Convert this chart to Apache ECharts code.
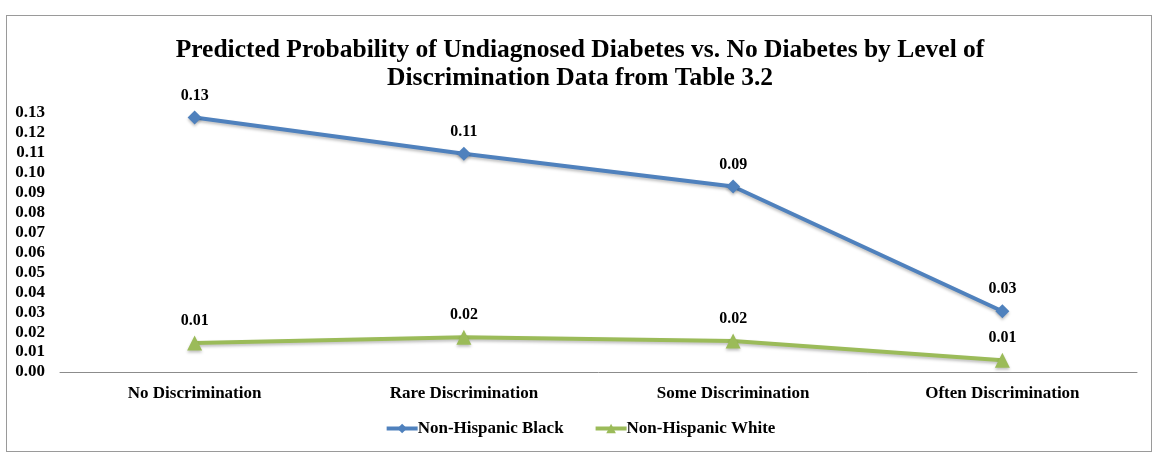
<!DOCTYPE html>
<html>
<head>
<meta charset="utf-8">
<script src="https://cdn.jsdelivr.net/npm/echarts@6/dist/echarts.min.js"></script>
<style>
  html, body { margin: 0; padding: 0; background: #fff; }
  #frame { position: absolute; left: 6px; top: 15px; width: 1146px; height: 437px; border: 1px solid #9a9a9a; box-sizing: border-box; }
  #chart { width: 1160px; height: 455px; }
</style>
</head>
<body>
<div id="frame"></div>
<div id="chart"></div>
<script>
// Discrimination levels on the x axis
const categories = ['No Discrimination', 'Rare Discrimination', 'Some Discrimination', 'Often Discrimination'];
// Predicted probabilities by group
const blackValues = [0.1277, 0.1096, 0.0931, 0.0305];
const whiteValues = [0.0146, 0.0175, 0.0155, 0.0059];
const seriesNames = ['Non-Hispanic Black', 'Non-Hispanic White'];
const titleText = 'Predicted Probability of Undiagnosed Diabetes vs. No Diabetes by Level of\nDiscrimination Data from Table 3.2';

const serif = '"Liberation Serif", "DejaVu Serif", serif';
const labelStyle = {
  show: true,
  position: 'top',
  distance: 7,
  fontFamily: serif,
  fontWeight: 'bold',
  fontSize: 16,
  color: '#000',
  formatter: p => p.value.toFixed(2)
};
const shadow = { shadowColor: 'rgba(0,0,0,0.25)', shadowBlur: 3, shadowOffsetY: 2 };

const chart = echarts.init(document.getElementById('chart'));
chart.setOption({
  animation: false,
  title: {
    text: titleText,
    left: 'center',
    top: 31,
    textStyle: { fontFamily: serif, fontWeight: 'bold', fontSize: 25.5, lineHeight: 28, color: '#000' }
  },
  legend: {
    bottom: 13,
    left: 'center',
    itemWidth: 31,
    itemHeight: 12,
    itemGap: 30,
    lineStyle: { width: 4 },
    textStyle: { fontFamily: serif, fontWeight: 'bold', fontSize: 17, color: '#000', padding: [0, 0, 0, -5] },
    data: seriesNames
  },
  grid: { left: 60, right: 23, top: 113, bottom: 83, containLabel: false },
  xAxis: {
    type: 'category',
    data: categories,
    boundaryGap: true,
    axisLine: { lineStyle: { color: '#8c8c8c', width: 1 } },
    axisTick: { show: false },
    axisLabel: { fontFamily: serif, fontWeight: 'bold', fontSize: 17, color: '#000', margin: 13 }
  },
  yAxis: {
    type: 'value',
    min: 0,
    max: 0.13,
    interval: 0.01,
    axisLine: { show: false },
    axisTick: { show: false },
    splitLine: { show: false },
    axisLabel: { fontFamily: serif, fontWeight: 'bold', fontSize: 17, color: '#000', margin: 15, formatter: v => v.toFixed(2) }
  },
  series: [
    {
      name: seriesNames[0],
      type: 'line',
      data: blackValues,
      symbol: 'diamond',
      symbolSize: 14,
      color: '#4F81BD',
      lineStyle: Object.assign({ width: 4, color: '#4F81BD' }, shadow),
      itemStyle: Object.assign({ color: '#4F81BD' }, shadow),
      label: labelStyle
    },
    {
      name: seriesNames[1],
      type: 'line',
      data: whiteValues,
      symbol: 'triangle',
      symbolSize: 15,
      color: '#9BBB59',
      lineStyle: Object.assign({ width: 4, color: '#9BBB59' }, shadow),
      itemStyle: Object.assign({ color: '#9BBB59' }, shadow),
      label: labelStyle
    }
  ]
});
</script>
</body>
</html>
